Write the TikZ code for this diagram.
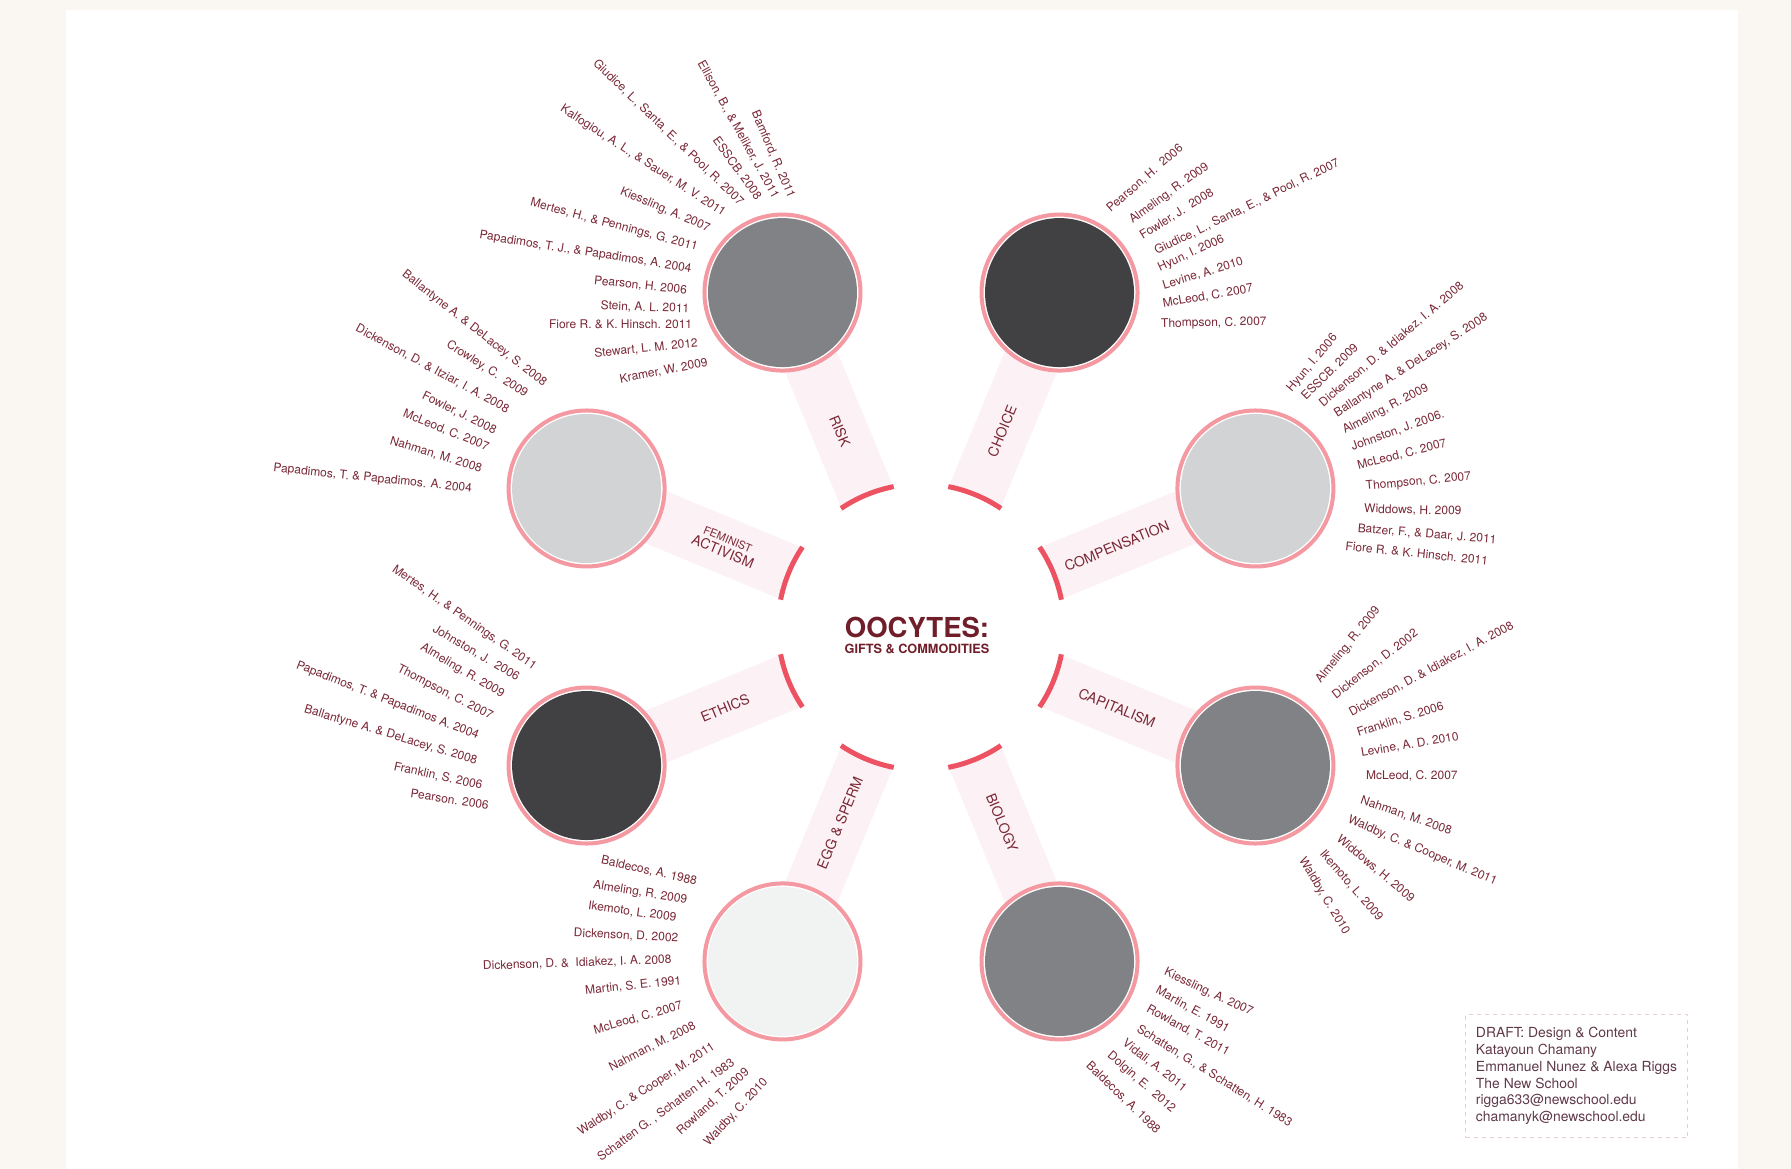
\documentclass[tikz,border=0pt]{standalone}
\usepackage{fontspec}
\setmainfont{TeX Gyre Heros}
\usetikzlibrary{positioning}
\definecolor{cream}{RGB}{250,246,242}
\definecolor{ringpink}{RGB}{244,152,162}
\definecolor{arcred}{RGB}{236,82,98}
\definecolor{bandpink}{RGB}{252,242,245}
\definecolor{textred}{RGB}{122,40,54}
\definecolor{titlered}{RGB}{112,30,42}
\definecolor{infotext}{RGB}{96,58,74}
\definecolor{infoline}{RGB}{236,206,210}
\definecolor{darkdisc}{RGB}{65,64,66}
\definecolor{middisc}{RGB}{128,130,133}
\definecolor{lightdisc}{RGB}{209,211,212}
\definecolor{paledisc}{RGB}{241,242,242}
\tikzset{
    disc/.style = {circle, draw=ringpink, line width=4pt, fill=white, minimum size=156pt, inner sep=0pt},
    band/.style = {fill=bandpink},
    arcline/.style = {draw=arcred, line width=5pt},
    topic/.style = {text=textred, inner sep=0pt, align=center, font=\fontsize{14}{14}\selectfont},
    refl/.style = {anchor=base east, text=textred, inner sep=0pt, font=\fontsize{12}{14}\selectfont},
    refr/.style = {refl, anchor=base west},
    refltop/.style = {refl, anchor=north east},
    refrtop/.style = {refl, anchor=north west},
    titletext/.style = {text=titlered, inner sep=0pt, font=\fontsize{27.5}{30}\selectfont\bfseries},
    subtitle/.style = {text=titlered, inner sep=0pt, font=\fontsize{12.7}{14}\selectfont\bfseries},
    infobox/.style = {draw=infoline, dash pattern=on 4pt off 4pt, line width=1pt, text=infotext, align=left,
        font=\fontsize{13.9}{16.7}\selectfont, inner xsep=10pt, minimum width=222pt, minimum height=123pt}
}
\begin{document}
\begin{tikzpicture}[x=1pt,y=1pt]
\useasboundingbox (0,0) rectangle (1791,-1169);
\fill[cream] (0,0) rectangle (1791,-1169);
\fill[white] (66,-10) rectangle (1738,-1169);
%
\begin{scope}[shift={(921,-627)}]
% spokes
\fill[band,rotate=22.5] (143,-28) rectangle (300,28);
\fill[band,rotate=67.5] (143,-28) rectangle (300,28);
\fill[band,rotate=112.5] (143,-28) rectangle (300,28);
\fill[band,rotate=157.5] (143,-28) rectangle (300,28);
\fill[band,rotate=202.5] (143,-28) rectangle (300,28);
\fill[band,rotate=247.5] (143,-28) rectangle (300,28);
\fill[band,rotate=292.5] (143,-28) rectangle (300,28);
\fill[band,rotate=337.5] (143,-28) rectangle (300,28);
%
\draw[arcline] (11:143) arc[start angle=11, end angle=34, radius=143];
\draw[arcline] (56:143) arc[start angle=56, end angle=79, radius=143];
\draw[arcline] (101:143) arc[start angle=101, end angle=124, radius=143];
\draw[arcline] (146:143) arc[start angle=146, end angle=169, radius=143];
\draw[arcline] (191:143) arc[start angle=191, end angle=214, radius=143];
\draw[arcline] (236:143) arc[start angle=236, end angle=259, radius=143];
\draw[arcline] (281:143) arc[start angle=281, end angle=304, radius=143];
\draw[arcline] (326:143) arc[start angle=326, end angle=349, radius=143];
%
\node[disc] (compensation) at (22.5:362) {};
\node[disc] (choice) at (67.5:362) {};
\node[disc] (risk) at (112.5:362) {};
\node[disc] (feminist) at (157.5:362) {};
\node[disc] (ethics) at (202.5:362) {};
\node[disc] (eggsperm) at (247.5:362) {};
\node[disc] (biology) at (292.5:362) {};
\node[disc] (capitalism) at (337.5:362) {};
\fill[lightdisc] (compensation.center) circle[radius=74.5];
\fill[darkdisc] (choice.center) circle[radius=74.5];
\fill[middisc] (risk.center) circle[radius=74.5];
\fill[lightdisc] (feminist.center) circle[radius=74.5];
\fill[darkdisc] (ethics.center) circle[radius=74.5];
\fill[paledisc] (eggsperm.center) circle[radius=74.5];
\fill[middisc] (biology.center) circle[radius=74.5];
\fill[middisc] (capitalism.center) circle[radius=74.5];
%
\node[topic,rotate=22.5] (lblcompensation) at (22.5:212) {COMPENSATION};
\node[topic,rotate=67.5] (lblchoice) at (67.5:212) {CHOICE};
\node[topic,rotate=-67.5] (lblrisk) at (112.5:212) {RISK};
\node[topic,rotate=-22.5] (lblfeminist) at (157.5:212) {{\fontsize{11}{13}\selectfont FEMINIST}\\ACTIVISM};
\node[topic,rotate=22.5] (lblethics) at (202.5:212) {ETHICS};
\node[topic,rotate=67.5] (lbleggsperm) at (247.5:212) {EGG \& SPERM};
\node[topic,rotate=-67.5] (lblbiology) at (292.5:212) {BIOLOGY};
\node[topic,rotate=-22.5] (lblcapitalism) at (337.5:212) {CAPITALISM};
\end{scope}
%
\node[titletext] (title) at (917,-627) {OOCYTES:};
\node[subtitle,below=6.5pt of title] (subtitle) {GIFTS \& COMMODITIES};
%
% risk
\node[refl,rotate=-67] (rk1) at (788.3,-199.3) {Bamford, R. 2011};
\node[refl,rotate=-61] (rk2) at (772.7,-199.3) {Ellison, B., \& Meliker, J. 2011};
\node[refl,rotate=-54] (rk3) at (756,-200.7) {ESSCB. 2008};
\node[refl,rotate=-44] (rk4) at (739.3,-206) {Giudice, L., Santa, E., \& Pool, R. 2007};
\node[refl,rotate=-33] (rk5) at (722.7,-216.7) {Kalfogiou, A. L., \& Sauer, M. V. 2011};
\node[refl,rotate=-23] (rk6) at (708.3,-231.7) {Kiessling, A. 2007};
\node[refl,rotate=-15] (rk7) at (696.7,-250.7) {Mertes, H., \& Pennings, G. 2011};
\node[refl,rotate=-9] (rk8) at (691,-272.3) {Papadimos, T. J., \& Papadimos, A. 2004};
\node[refl,rotate=-6] (rk9) at (686.7,-294) {Pearson, H. 2006};
\node[refl,rotate=-2] (rk10) at (689.3,-312.7) {Stein, A. L. 2011};
\node[refl] (rk11) at (692.3,-328.7) {Fiore R. \& K. Hinsch. 2011};
\node[refl,rotate=6] (rk12) at (698.3,-346.7) {Stewart, L. M. 2012};
\node[refl,rotate=11] (rk13) at (708.3,-366) {Kramer, W. 2009};
% feminist activism
\node[refl,rotate=-38] (fa1) at (543.3,-386.7) {Ballantyne A. \& DeLacey, S. 2008};
\node[refl,rotate=-33] (fa2) at (525,-397.7) {Crowley, C.~~2009};
\node[refl,rotate=-28.5] (fa3) at (506.7,-413.3) {Dickenson, D. \& Itziar, I. A. 2008};
\node[refl,rotate=-26] (fa4) at (494.3,-434.3) {Fowler, J. 2008};
\node[refl,rotate=-22] (fa5) at (487.3,-451) {McLeod, C. 2007};
\node[refl,rotate=-17] (fa6) at (480.7,-472.3) {Nahman, M. 2008};
\node[refl,rotate=-6] (fa7) at (471.7,-492.3) {Papadimos, T. \& Papadimos. A. 2004};
% choice
\node[refr,rotate=41] (ch1) at (1110.7,-212.7) {Pearson, H.~~2006};
\node[refr,rotate=36] (ch2) at (1132.7,-224) {Almeling, R. 2009};
\node[refr,rotate=31.7] (ch3) at (1142.7,-239.3) {Fowler, J.~~2008};
\node[refr,rotate=26] (ch4) at (1156.7,-255) {Giudice, L., Santa, E., \& Pool, R. 2007};
\node[refr,rotate=25] (ch5) at (1160,-271.7) {Hyun, I. 2006};
\node[refr,rotate=17] (ch6) at (1164,-289.3) {Levine, A. 2010};
\node[refr,rotate=10] (ch7) at (1163.3,-307.7) {McLeod, C. 2007};
\node[refr,rotate=1] (ch8) at (1161,-327.3) {Thompson, C. 2007};
% compensation
\node[refr,rotate=50] (cp1) at (1291.7,-392.7) {Hyun, I. 2006};
\node[refr,rotate=44.6] (cp2) at (1306,-400.7) {ESSCB. 2009};
\node[refr,rotate=40.4] (cp3) at (1323.3,-407.3) {Dickenson, D. \& Idiakez, I. A. 2008};
\node[refr,rotate=33] (cp4) at (1337.3,-417.3) {Ballantyne A. \& DeLacey, S. 2008};
\node[refr,rotate=27.4] (cp5) at (1345,-434) {Almeling, R. 2009};
\node[refr,rotate=19.9] (cp6) at (1352.7,-450.7) {Johnston, J. 2006.};
\node[refr,rotate=14.3] (cp7) at (1358.3,-469.3) {McLeod, C. 2007};
\node[refr,rotate=5.4] (cp8) at (1366,-490) {Thompson, C. 2007};
\node[refr,rotate=-1.4] (cp9) at (1364,-512.7) {Widdows, H. 2009};
\node[refr,rotate=-4.8] (cp10) at (1357.3,-532) {Batzer, F., \& Daar, J. 2011};
\node[refr,rotate=-6] (cp11) at (1345,-550) {Fiore R. \& K. Hinsch. 2011};
% capitalism
\node[refr,rotate=51] (ca1) at (1320.7,-684) {Almeling, R. 2009};
\node[refr,rotate=38] (ca2) at (1336,-699.3) {Dickenson, D. 2002};
\node[refr,rotate=28.6] (ca3) at (1351.7,-716.7) {Dickenson, D. \& Idiakez, I. A. 2008};
\node[refr,rotate=17.8] (ca4) at (1358.3,-736.7) {Franklin, S. 2006};
\node[refr,rotate=9.6] (ca5) at (1361.7,-756.7) {Levine, A. D. 2010};
\node[refr] (ca6) at (1366,-779.3) {McLeod, C. 2007};
\node[refrtop,rotate=-19] (ca7) at (1362.7,-795) {Nahman, M. 2008};
\node[refrtop,rotate=-23] (ca8) at (1350.7,-814) {Waldby, C. \& Cooper, M. 2011};
\node[refrtop,rotate=-40] (ca9) at (1341.7,-833.3) {Widdows, H. 2009};
\node[refrtop,rotate=-48.8] (ca10) at (1326,-848.3) {Ikemoto, L. 2009};
\node[refrtop,rotate=-59] (ca11) at (1306.7,-855.7) {Waldby, C. 2010};
% ethics
\node[refl,rotate=-34.9] (et1) at (533.3,-670) {Mertes, H., \& Pennings, G. 2011};
\node[refl,rotate=-30.3] (et2) at (516.7,-681) {Johnston, J.~~2006};
\node[refl,rotate=-30.5] (et3) at (501.7,-697.7) {Almeling, R. 2009};
\node[refl,rotate=-27] (et4) at (490.7,-719.3) {Thompson, C. 2007};
\node[refl,rotate=-21.4] (et5) at (477.3,-739.3) {Papadimos, T. \& Papadimos A. 2004};
\node[refl,rotate=-16.8] (et6) at (476,-764.3) {Ballantyne A. \& DeLacey, S. 2008};
\node[refl,rotate=-12.3] (et7) at (481.7,-789.3) {Franklin, S. 2006};
\node[refl,rotate=-8.4] (et8) at (488.3,-809.3) {Pearson. 2006};
% egg & sperm
\node[refl,rotate=-12.5] (eg1) at (696,-885) {Baldecos, A. 1988};
\node[refl,rotate=-8.9] (eg2) at (686.7,-903.3) {Almeling, R. 2009};
\node[refl,rotate=-8] (eg3) at (676,-921.7) {Ikemoto, L. 2009};
\node[refl,rotate=-2.7] (eg4) at (678.3,-941.7) {Dickenson, D. 2002};
\node[refl,rotate=2] (eg5) at (671.7,-963.3) {Dickenson, D. \&~~Idiakez, I. A. 2008};
\node[refl,rotate=5.9] (eg6) at (681.7,-984.3) {Martin, S. E. 1991};
\node[refltop,rotate=16] (eg7) at (680.7,-1000) {McLeod, C. 2007};
\node[refltop,rotate=27] (eg8) at (692.7,-1020) {Nahman, M. 2008};
\node[refltop,rotate=33] (eg9) at (710.7,-1040.7) {Waldby, C. \& Cooper, M. 2011};
\node[refltop,rotate=36] (eg10) at (730,-1056.7) {Schatten G. , Schatten H. 1983};
\node[refltop,rotate=42] (eg11) at (744,-1066.7) {Rowland, T. 2009};
\node[refltop,rotate=47] (eg12) at (761.7,-1076) {Waldby, C. 2010};
% biology
\node[refrtop,rotate=-25] (bi1) at (1167.3,-966.7) {Kiessling, A. 2007};
\node[refrtop,rotate=-29] (bi2) at (1159.3,-985) {Martin, E. 1991};
\node[refrtop,rotate=-29] (bi3) at (1150,-1003.3) {Rowland, T. 2011};
\node[refrtop,rotate=-32] (bi4) at (1140.7,-1023.3) {Schatten, G., \& Schatten, H. 1983};
\node[refrtop,rotate=-38] (bi5) at (1127.3,-1037.3) {Vidali, A. 2011};
\node[refrtop,rotate=-41] (bi6) at (1112.7,-1050) {Dolgin, E.~~2012};
\node[refrtop,rotate=-44] (bi7) at (1091.7,-1060) {Baldecos, A. 1988};
%
\node[infobox,anchor=north west] (info) at (1465,-1014) {DRAFT: Design \& Content\\Katayoun Chamany\\Emmanuel Nunez \& Alexa Riggs\\The New School\\rigga633@newschool.edu\\chamanyk@newschool.edu};
\end{tikzpicture}
\end{document}
